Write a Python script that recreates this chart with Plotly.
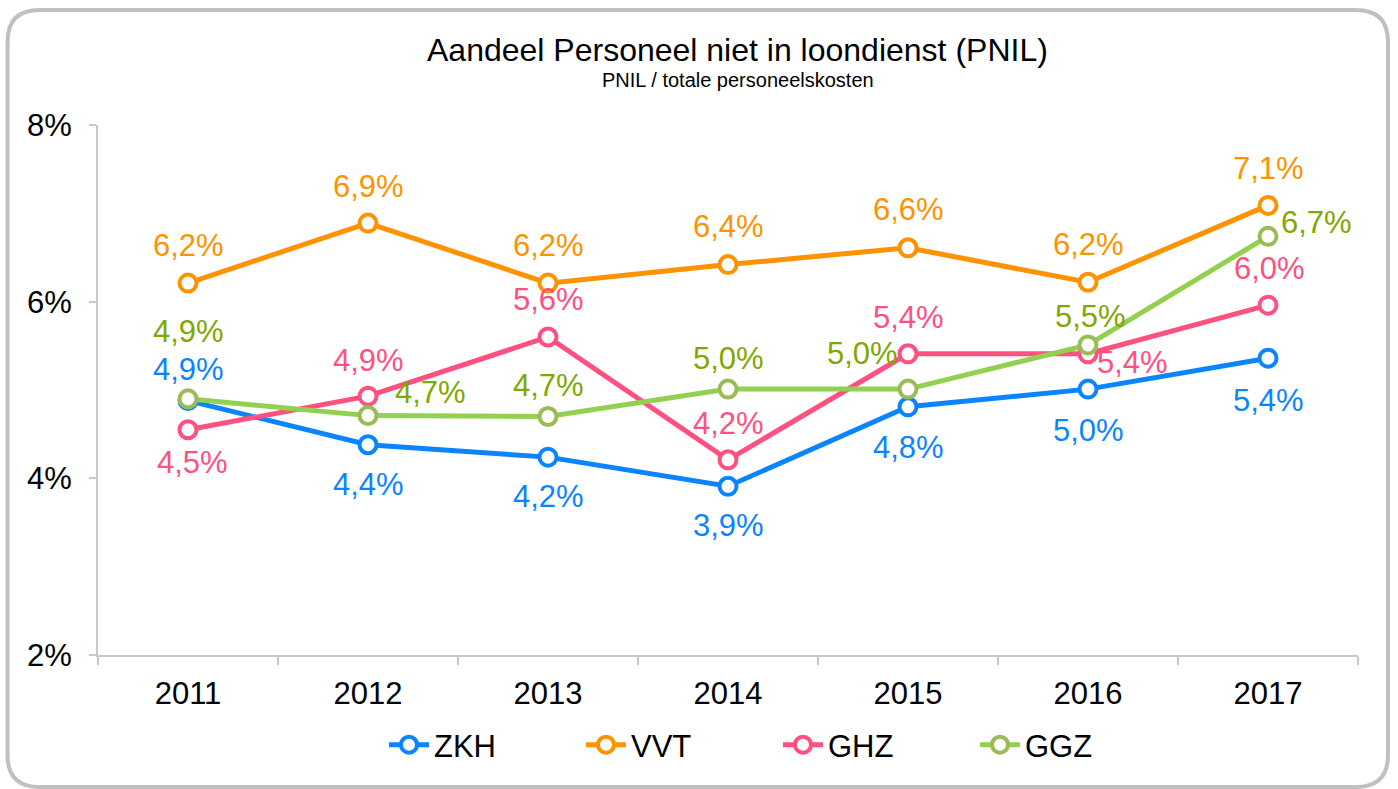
import plotly.graph_objects as go

years = ["2011", "2012", "2013", "2014", "2015", "2016", "2017"]
zkh = [4.88, 4.38, 4.24, 3.91, 4.81, 5.01, 5.36]
vvt = [6.21, 6.89, 6.21, 6.42, 6.61, 6.22, 7.09]
ghz = [4.55, 4.93, 5.60, 4.21, 5.41, 5.41, 5.96]
ggz = [4.90, 4.71, 4.70, 5.01, 5.01, 5.51, 6.74]
y_ticks = [2, 4, 6, 8]
y_tick_labels = ["2%", "4%", "6%", "8%"]

W, H = 1398, 789
L, R, T, B = 98, 40, 125, 134
PW, PH = W - L - R, H - T - B

def px(x):
    return (x - L) / PW

def py(y):
    return (H - B - y) / PH

series = [
    ("ZKH", zkh, "#0A85FF", "#0A85FF", "#0A85FF",
     [(0, -31), (0, 40), (0, 39), (0, 39), (0, 41), (0, 41), (0, 42)]),
    ("VVT", vvt, "#FF9200", "#FF9200", "#FF9200",
     [(0, -38), (0, -37), (0, -38), (0, -38), (0, -38), (0, -38), (0, -37)]),
    ("GHZ", ghz, "#FF5080", "#FF5080", "#FF5080",
     [(4, 33), (0, -36), (0, -38), (0, -36), (0, -36), (44, 9), (1, -37)]),
    ("GGZ", ggz, "#92D050", "#9BBB59", "#7FA800",
     [(0, -67), (62, -23), (0, -31), (0, -31), (-46, -36), (2, -28), (48, -14)]),
]

fig = go.Figure()
annotations = []
for name, vals, lc, mc, tc, offs in series:
    fig.add_trace(go.Scatter(
        x=years, y=vals, name=name, mode="lines+markers",
        line=dict(color=lc, width=5),
        marker=dict(symbol="circle", size=17, color="white",
                    line=dict(color=mc, width=4)),
        hoverinfo="skip",
    ))
    for i, (v, (dx, dy)) in enumerate(zip(vals, offs)):
        annotations.append(dict(
            x=i, y=v, xref="x", yref="y", showarrow=False,
            text=f"{v:.1f}".replace(".", ",") + "%",
            font=dict(family="Liberation Sans, Arial", size=31, color=tc),
            xshift=dx, yshift=-dy, xanchor="center", yanchor="middle",
        ))

annotations.append(dict(
    x=px(737), y=py(50), xref="paper", yref="paper", showarrow=False,
    text="Aandeel Personeel niet in loondienst (PNIL)",
    font=dict(family="Liberation Sans, Arial", size=32, color="black"),
    xanchor="center", yanchor="middle"))
annotations.append(dict(
    x=px(738), y=py(80), xref="paper", yref="paper", showarrow=False,
    text="PNIL / totale personeelskosten",
    font=dict(family="Liberation Sans, Arial", size=20, color="black"),
    xanchor="center", yanchor="middle"))

# rounded border
x0, x1, y0, y1, r = 7.5, 1388, 10, 787, 32
def P(x, y):
    return f"{px(x)},{py(y)}"
path = (f"M {P(x0 + r, y0)} L {P(x1 - r, y0)} Q {P(x1, y0)} {P(x1, y0 + r)} "
        f"L {P(x1, y1 - r)} Q {P(x1, y1)} {P(x1 - r, y1)} "
        f"L {P(x0 + r, y1)} Q {P(x0, y1)} {P(x0, y1 - r)} "
        f"L {P(x0, y0 + r)} Q {P(x0, y0)} {P(x0 + r, y0)} Z")

fig.update_layout(
    width=W, height=H,
    margin=dict(l=L, r=R, t=T, b=B, autoexpand=False),
    paper_bgcolor="white", plot_bgcolor="white",
    showlegend=True,
    legend=dict(orientation="h", x=px(778), xanchor="center", y=py(745),
                yanchor="middle", font=dict(family="Liberation Sans, Arial", size=31, color="black"),
                entrywidth=142, itemwidth=40, bgcolor="rgba(0,0,0,0)"),
    annotations=annotations,
    shapes=[dict(type="path", path=path, xref="paper", yref="paper",
                 line=dict(color="#C0C0C0", width=4), fillcolor="rgba(0,0,0,0)", layer="below")],
    xaxis=dict(type="category", showgrid=False, zeroline=False,
               showline=True, linecolor="#C8C8C8", linewidth=2,
               ticks="outside", tickson="boundaries", ticklen=8, tickwidth=2, tickcolor="#C8C8C8",
               tickfont=dict(family="Liberation Sans, Arial", size=31, color="black"),
               ticklabelstandoff=10, range=[-0.5, 6.5]),
    yaxis=dict(range=[2, 8], tickvals=y_ticks, ticktext=y_tick_labels, showgrid=False,
               zeroline=False, showline=True, linecolor="#C8C8C8", linewidth=2,
               ticks="outside", ticklen=7, tickwidth=2, tickcolor="#C8C8C8",
               tickfont=dict(family="Liberation Sans, Arial", size=31, color="black"),
               ticklabelstandoff=11),
)

fig.write_html("out.html", config={"displayModeBar": False},
               post_script="document.body.style.margin='0';document.body.style.padding='0';")
